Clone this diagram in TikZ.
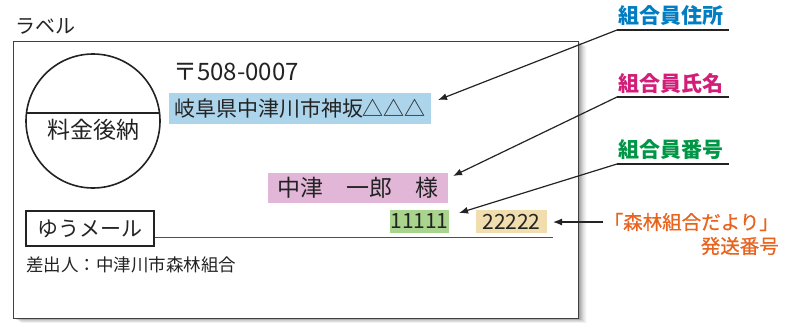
\documentclass[tikz,border=0pt]{standalone}
\usepackage{fontspec}
\setmainfont{Noto Sans CJK JP}
\newfontfamily\jp{Noto Sans CJK JP}
\newfontfamily\jpm[FakeBold=0.7]{Noto Sans CJK JP}
\usetikzlibrary{arrows.meta}
\definecolor{lblue}{RGB}{0,125,195}
\definecolor{lmag}{RGB}{210,30,120}
\definecolor{lgreen}{RGB}{0,150,70}
\definecolor{lorange}{RGB}{232,100,30}
\definecolor{faddr}{RGB}{172,212,235}
\definecolor{fname}{RGB}{226,182,215}
\definecolor{fnum}{RGB}{168,212,142}
\definecolor{fsend}{RGB}{240,222,175}
\definecolor{ink}{RGB}{35,35,35}
\tikzset{
  txt/.style={inner sep=0pt, text=ink},
  hbox/.style={inner sep=0pt, text=ink},
  lab/.style={inner sep=0pt, font=\jp\bfseries\fontsize{21}{24}\selectfont},
  olab/.style={inner sep=0pt, anchor=east, text=lorange, font=\jpm\fontsize{19.5}{22}\selectfont},
  leader/.style={line width=1.4pt, ink},
  pointer/.style={line width=1.2pt, ink, -{Latex[length=9pt,width=7pt]}},
}
\begin{document}
\begin{tikzpicture}[x=1pt,y=-1pt]
\useasboundingbox (0,0) rectangle (796,327);
% card with shadow
\foreach \i/\o in {1/0.10,2/0.09,3/0.08,4/0.07,5/0.06,6/0.05,7/0.04,8/0.03,9/0.02}{
  \fill[black,opacity=\o] (13+\i,41+0.6*\i) rectangle (578+\i,318+0.6*\i);
}
\node[draw=black!75, fill=white, line width=0.8pt, minimum width=565pt, minimum height=277pt, inner sep=0pt] (card) at (295.5,179.5) {};
\node[txt, anchor=west, font=\fontsize{20}{24}\selectfont] (title) at (15,26) {ラベル};
% stamp
\node[draw=ink, circle, line width=1.6pt, minimum size=134pt, inner sep=0pt] (stamp) at (93,121) {};
\coordinate (chl) at (26.5,113);
\coordinate (chr) at (159.5,113);
\draw[line width=1.6pt, ink] (chl) -- (chr);
\node[txt, font=\fontsize{23}{26}\selectfont] (fee) at (93,130) {料金後納};
% address
\node[txt, anchor=west, font=\fontsize{24}{28}\selectfont] (zip) at (173,72) {〒508-0007};
\node[hbox, fill=faddr, minimum width=262pt, minimum height=31pt, font=\fontsize{21}{24}\selectfont] (addr) at (300,108.5) {岐阜県中津川市神坂△△△};
\node[hbox, fill=fname, minimum width=180pt, minimum height=30pt, font=\fontsize{23}{26}\selectfont] (name) at (358,188) {中津　一郎　様};
\node[hbox, fill=fnum, minimum width=59pt, minimum height=23pt, font=\fontsize{21}{24}\selectfont] (num) at (419.5,221.5) {11111};
\node[hbox, fill=fsend, minimum width=71pt, minimum height=23pt, font=\fontsize{21}{24}\selectfont] (send) at (511.5,221.5) {22222};
% yu-mail
\node[hbox, draw=ink, line width=2pt, minimum width=128pt, minimum height=35pt, font=\fontsize{21}{24}\selectfont] (yu) at (90,228.5) {ゆうメール};
\coordinate (baseend) at (553,237);
\draw[line width=1pt, ink!80] (yu.east |- baseend) -- (baseend);
\node[txt, anchor=west, font=\fontsize{17.5}{20}\selectfont] (sender) at (26,265) {差出人：中津川市森林組合};
% labels
\node[lab, text=lblue] (l1) at (671,16) {組合員住所};
\node[lab, text=lmag] (l2) at (671,83) {組合員氏名};
\node[lab, text=lgreen] (l3) at (671,150) {組合員番号};
\coordinate (u1a) at (617,30); \coordinate (u1b) at (729,30);
\coordinate (u2a) at (617,97); \coordinate (u2b) at (729,97);
\coordinate (u3a) at (617,164); \coordinate (u3b) at (729,164);
\draw[leader] (u1a) -- (u1b);
\draw[leader] (u2a) -- (u2b);
\draw[leader] (u3a) -- (u3b);
\coordinate (t1) at (438,100);
\coordinate (t2) at (453,176);
\coordinate (t3) at (459,213);
\coordinate (t4) at (553,222);
\draw[pointer] (u1a) -- (t1);
\draw[pointer] (u2a) -- (t2);
\draw[pointer] (u3a) -- (t3);
\node[olab] (l4) at (779,222) {「森林組合だより」};
\node[olab] (l4b) at (779,246) {発送番号};
\draw[pointer] (l4.west) -- (t4);
\end{tikzpicture}
\end{document}
